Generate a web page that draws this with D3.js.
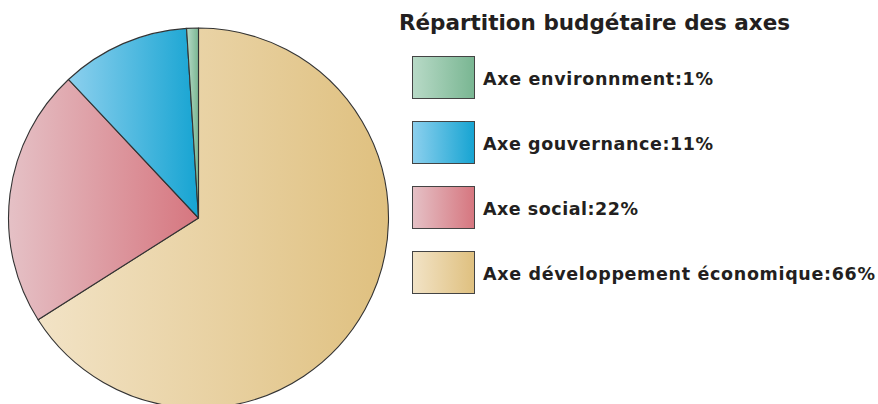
<!DOCTYPE html>
<html><head><meta charset="utf-8">
<script src="https://cdn.jsdelivr.net/npm/d3@7"></script>
<style>body{margin:0;background:#fff;}svg{display:block;}</style>
</head><body>
<svg id="c" width="878" height="404"></svg>
<script>
const categories = ["Axe développement économique","Axe social","Axe gouvernance","Axe environnment"];
const values = [66, 22, 11, 1];
const legendOrder = ["Axe environnment","Axe gouvernance","Axe social","Axe développement économique"];
const title = "Répartition budgétaire des axes";
const colorsLight = ["#f2e3c6","#e5c1c6","#8dd0ee","#b8dac7"];
const colorsDark = ["#dfc07f","#d6767f","#16a4d2","#79b692"];

const svg = d3.select("#c");
const defs = svg.append("defs");
categories.forEach((c,i)=>{
  const g = defs.append("linearGradient").attr("id","g"+i).attr("x1","0").attr("x2","1").attr("y1","0").attr("y2","0");
  g.append("stop").attr("offset","0").attr("stop-color",colorsLight[i]);
  g.append("stop").attr("offset","1").attr("stop-color",colorsDark[i]);
});
const cx=198.5, cy=218, r=190;
const pie = d3.pie().sort(null).value(d=>d.v);
const data = categories.map((c,i)=>({c, v:values[i], i}));
const arc = d3.arc().innerRadius(0).outerRadius(r);
svg.append("g").attr("transform",`translate(${cx},${cy})`)
  .selectAll("path").data(pie(data)).join("path")
  .attr("d",arc).attr("fill",d=>`url(#g${d.data.i})`)
  .attr("stroke","#333").attr("stroke-width",1.1).attr("stroke-linejoin","round");

function fit(sel, w){
  sel.each(function(){
    const t=d3.select(this);
    const n=this.getNumberOfChars();
    const cur=this.getComputedTextLength();
    t.attr("letter-spacing",((w-cur)/Math.max(1,n-1)).toFixed(2));
  });
}
const FONT = "'DejaVu Sans', sans-serif";
svg.append("text").attr("x",399).attr("y",30).text(title)
  .attr("font-family",FONT).attr("font-weight","bold").attr("font-size",21.5).attr("fill","#231f20")
  .call(fit,391);

const y = d3.scaleBand().domain(legendOrder).range([56,316]);
const lg = svg.append("g").selectAll("g").data(legendOrder).join("g")
  .attr("transform",d=>`translate(412.5,${y(d)+0.5})`);
lg.append("rect").attr("width",62).attr("height",42)
  .attr("fill",d=>`url(#g${categories.indexOf(d)})`).attr("stroke","#444").attr("stroke-width",1);
const lt = lg.append("text").attr("x",70.5).attr("y",28)
  .attr("font-family",FONT).attr("font-weight","bold").attr("font-size",17.5).attr("fill","#231f20")
  .text(d=>d+":"+values[categories.indexOf(d)]+"%");
const widths = {"Axe environnment":230,"Axe gouvernance":230,"Axe social":155,"Axe développement économique":392};
lt.each(function(d){ d3.select(this).call(fit, widths[d]); });
</script>
</body></html>
